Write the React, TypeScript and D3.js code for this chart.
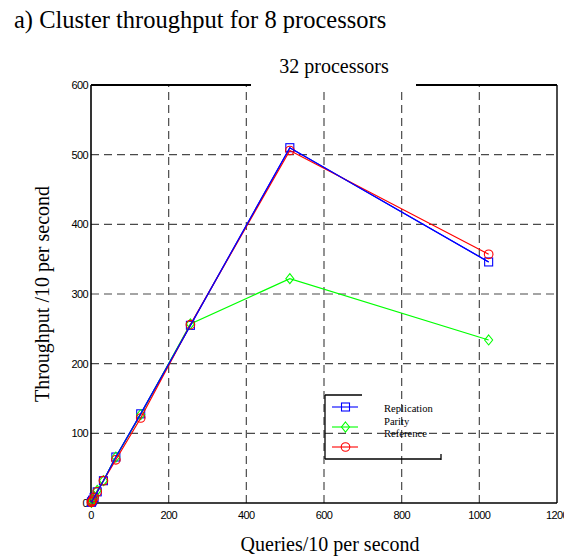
import * as d3 from "d3";

const queries = [1, 2, 4, 8, 16, 32, 64, 128, 256, 512, 1024];
const replication = [1, 2, 4, 8, 16, 32, 66, 128, 255, 510, 346];
const parity = [1, 2, 4, 8, 18, 32, 66, 127, 257, 322, 234];
const reference = [1, 2, 4, 8, 16, 32, 62, 122, 256, 506, 357];

const xTicks = [0, 200, 400, 600, 800, 1000, 1200];
const yTicks = [0, 100, 200, 300, 400, 500, 600];

const series = [
  { name: "Replication", values: replication, color: "#0000ff", marker: "square" },
  { name: "Parity", values: parity, color: "#00ff00", marker: "diamond" },
  { name: "Reference", values: reference, color: "#ff0000", marker: "circle" },
];

const W = 564;
const H = 558;
const serif = "'Liberation Serif', 'Times New Roman', serif";
const sans = "'Liberation Sans', Arial, sans-serif";

function Marker({ kind, cx, cy, color }: { kind: string; cx: number; cy: number; color: string }) {
  if (kind === "square")
    return <rect x={cx - 4} y={cy - 4} width={8} height={8} fill="none" stroke={color} strokeWidth={1.1} />;
  if (kind === "diamond")
    return (
      <path
        d={`M${cx},${cy - 5}L${cx + 4},${cy}L${cx},${cy + 5}L${cx - 4},${cy}Z`}
        fill="none"
        stroke={color}
        strokeWidth={1.1}
      />
    );
  return <circle cx={cx} cy={cy} r={4.3} fill="none" stroke={color} strokeWidth={1.1} />;
}

export default function App() {
  const x = d3.scaleLinear().domain([0, 1200]).range([91, 557]);
  const y = d3.scaleLinear().domain([0, 600]).range([503, 85]);
  const line = d3
    .line<number>()
    .x((_, i) => x(queries[i]))
    .y((d) => y(d));

  const gridColor = "#4a4a4a";
  const dash = "8,5";

  return (
    <svg
      width={W}
      height={H}
      style={{ position: "absolute", left: 0, top: 0, background: "#fff" }}
    >
      <text x={14} y={28} fontFamily={serif} fontSize={24.5} fill="#000">
        a) Cluster throughput for 8 processors
      </text>

      {/* grid */}
      {xTicks.slice(1, -1).map((t) => (
        <line key={"gx" + t} x1={x(t)} x2={x(t)} y1={y(0)} y2={y(600)} stroke={gridColor} strokeWidth={1.2} strokeDasharray={dash} />
      ))}
      {yTicks.slice(1).map((t) => (
        <line key={"gy" + t} x1={x(0)} x2={x(1200)} y1={y(t)} y2={y(t)} stroke={gridColor} strokeWidth={1.2} strokeDasharray={dash} />
      ))}

      {/* axes box */}
      <line x1={x(0)} x2={x(1200)} y1={y(0)} y2={y(0)} stroke="#000" strokeWidth={1.6} />
      <line x1={x(0)} x2={x(0)} y1={y(0)} y2={y(600)} stroke="#000" strokeWidth={1.6} />
      <line x1={x(1200)} x2={x(1200)} y1={y(0)} y2={y(600)} stroke="#000" strokeWidth={1.4} />
      <line x1={x(0)} x2={x(1200)} y1={y(600)} y2={y(600)} stroke="#000" strokeWidth={1.8} />

      {/* title background covers the top edge */}
      <rect x={251} y={50} width={165} height={40} fill="#fff" />
      <text x={334} y={73} textAnchor="middle" fontFamily={serif} fontSize={20} fill="#000">
        32 processors
      </text>

      {/* tick labels */}
      {yTicks.map((t) => (
        <text key={"ly" + t} x={x(0) - 3} y={y(t) + 4} textAnchor="end" fontFamily={sans} fontSize={11} letterSpacing={-0.6} fill="#000">
          {t}
        </text>
      ))}
      {xTicks.map((t) => (
        <text key={"lx" + t} x={x(t)} y={y(0) + 16} textAnchor="middle" fontFamily={sans} fontSize={11} letterSpacing={-0.6} fill="#000">
          {t}
        </text>
      ))}

      {/* axis labels */}
      <text x={330} y={551} textAnchor="middle" fontFamily={serif} fontSize={20} fill="#000">
        Queries/10 per second
      </text>
      <text
        transform={`translate(49,${y(300)}) rotate(-90)`}
        textAnchor="middle"
        fontFamily={serif}
        fontSize={20}
        fill="#000"
      >
        Throughput /10 per second
      </text>

      {/* series */}
      {series.map((s) => (
        <g key={s.name}>
          <path d={line(s.values) ?? ""} fill="none" stroke={s.color} strokeWidth={1.2} />
          {s.values.map((v, i) => (
            <Marker key={i} kind={s.marker} cx={x(queries[i])} cy={y(v)} color={s.color} />
          ))}
        </g>
      ))}
      {/* replication line sits on top in the original */}
      <path d={line(replication) ?? ""} fill="none" stroke="#0000ff" strokeWidth={1.2} />

      {/* legend (partially drawn borders as in the original) */}
      <g>
        <line x1={325} x2={325} y1={395} y2={459} stroke="#000" strokeWidth={1.3} />
        <line x1={325} x2={362} y1={395} y2={395} stroke="#000" strokeWidth={1.3} />
        <line x1={325} x2={441} y1={459} y2={459} stroke="#000" strokeWidth={1.6} />
        <line x1={441} x2={441} y1={454} y2={460} stroke="#000" strokeWidth={1.3} />
        {series.map((s, i) => {
          const ly = 407 + i * 20;
          return (
            <g key={"lg" + s.name}>
              <line x1={332} x2={358} y1={ly} y2={ly} stroke={s.color} strokeWidth={1.1} />
              <Marker kind={s.marker} cx={345.5} cy={ly} color={s.color} />
              <text x={384} y={412 + i * 12.7} fontFamily={serif} fontSize={10.6} fill="#000">
                {s.name}
              </text>
            </g>
          );
        })}
      </g>
    </svg>
  );
}
